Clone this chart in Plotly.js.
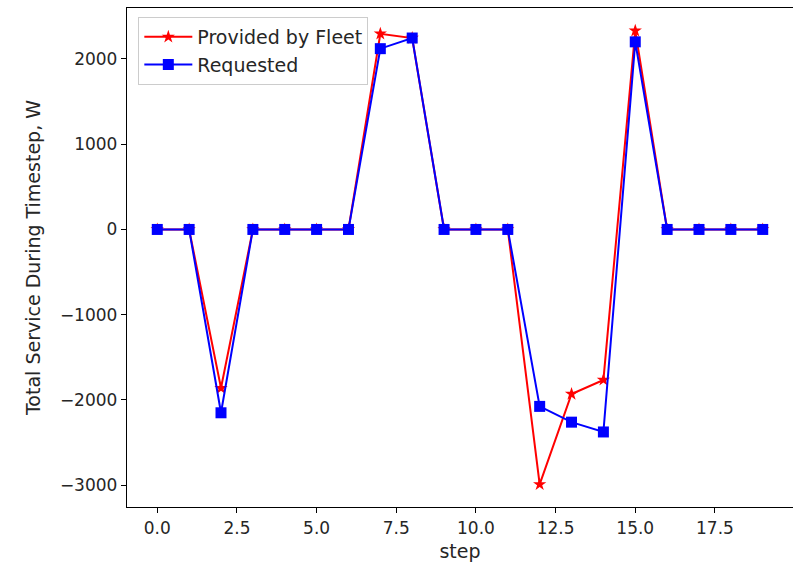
<!DOCTYPE html>
<html>
<head>
<meta charset="utf-8">
<script src="https://cdn.plot.ly/plotly-3.0.1.min.js"></script>
<style>html,body{margin:0;padding:0;background:#fff;}#chart{width:793px;height:562px;}</style>
</head>
<body>
<div id="chart"></div>
<script>
const steps = [0,1,2,3,4,5,6,7,8,9,10,11,12,13,14,15,16,17,18,19];
const providedByFleet = [0,0,-1860,0,0,0,0,2295,2245,0,0,0,-2990,-1930,-1765,2330,0,0,0,0];
const requested = [0,0,-2150,0,0,0,0,2120,2245,0,0,0,-2075,-2260,-2375,2200,0,0,0,0];
const xTickVals = [0,2.5,5,7.5,10,12.5,15,17.5];
const yTickVals = [-3000,-2000,-1000,0,1000,2000];

const font = "DejaVu Sans, sans-serif";
const traces = [
  {x: steps, y: providedByFleet, name: "Provided by Fleet", mode: "lines+markers",
   line: {color: "#ff0000", width: 2}, marker: {symbol: "star", size: 10, color: "#ff0000"}},
  {x: steps, y: requested, name: "Requested", mode: "lines+markers",
   line: {color: "#0000ff", width: 2}, marker: {symbol: "square", size: 11, color: "#0000ff"}}
];
const layout = {
  width: 793, height: 562,
  margin: {l: 127, r: 0, t: 8, b: 55},
  paper_bgcolor: "#fff", plot_bgcolor: "#fff",
  font: {family: font, size: 17, color: "#262626"},
  showlegend: true,
  legend: {x: 0.017, y: 0.982, xanchor: "left", yanchor: "top", bgcolor: "rgba(255,255,255,0.8)",
    bordercolor: "#cccccc", borderwidth: 1, itemwidth: 48, tracegroupgap: 0,
    font: {family: font, size: 19, color: "#262626"}},
  xaxis: {range: [-0.95, 19.95], tickvals: xTickVals, tickformat: ".1f", showgrid: false, zeroline: false,
    showline: true, linecolor: "#000", linewidth: 1.2, mirror: true, ticks: "outside", ticklen: 5, tickcolor: "#000",
    tickfont: {size: 17},
    title: {text: "step", font: {family: font, size: 19}, standoff: 8}},
  yaxis: {range: [-3255, 2597], tickvals: yTickVals, showgrid: false, zeroline: false,
    showline: true, linecolor: "#000", linewidth: 1.2, mirror: false, ticks: "outside", ticklen: 5, tickcolor: "#000",
    tickfont: {size: 17},
    title: {text: "Total Service During Timestep, W", font: {family: font, size: 19}, standoff: 14}}
};
Plotly.newPlot("chart", traces, layout, {displayModeBar: false, staticPlot: true});
</script>
</body>
</html>
